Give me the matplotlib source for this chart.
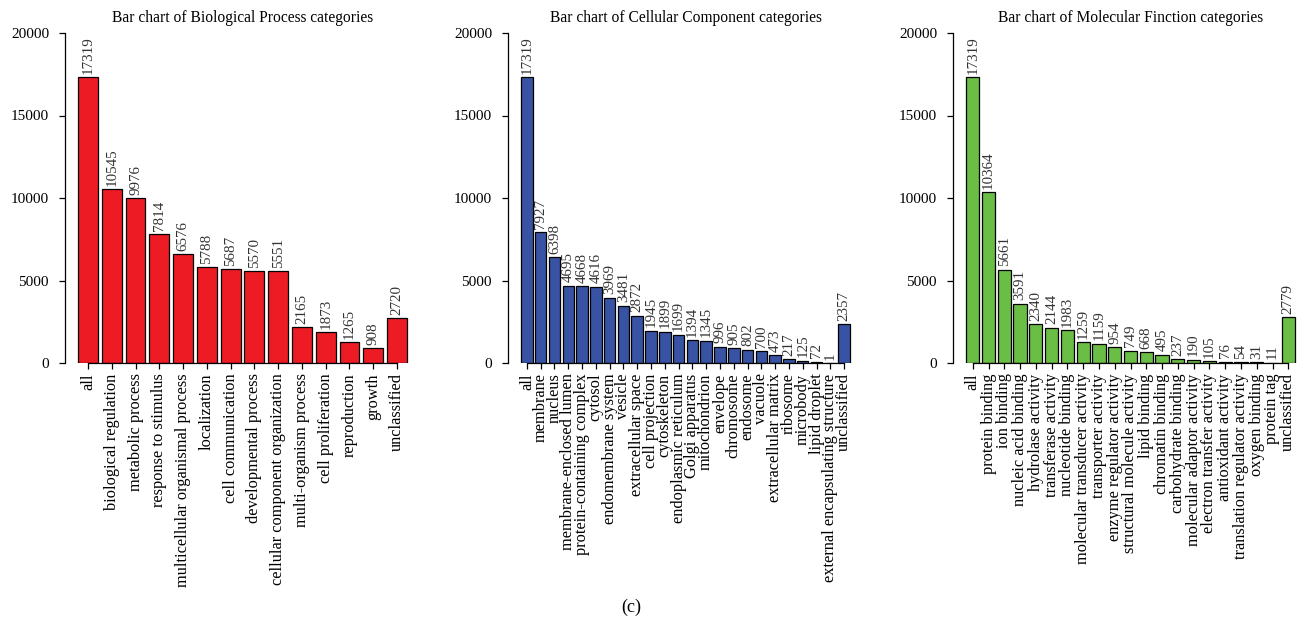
import matplotlib
matplotlib.use("Agg")
import matplotlib.pyplot as plt
import numpy as np

plt.rcParams['font.family'] = ['Liberation Serif', 'DejaVu Serif']

bp_categories = ["all", "biological regulation", "metabolic process", "response to stimulus",
                 "multicellular organismal process", "localization", "cell communication",
                 "developmental process", "cellular component organization",
                 "multi-organism process", "cell proliferation", "reproduction", "growth",
                 "unclassified"]
bp_values = [17319, 10545, 9976, 7814, 6576, 5788, 5687, 5570, 5551, 2165, 1873, 1265, 908, 2720]

cc_categories = ["all", "membrane", "nucleus", "membrane-enclosed lumen",
                 "protein-containing complex", "cytosol", "endomembrane system", "vesicle",
                 "extracellular space", "cell projection", "cytoskeleton",
                 "endoplasmic reticulum", "Golgi apparatus", "mitochondrion", "envelope",
                 "chromosome", "endosome", "vacuole", "extracellular matrix", "ribosome",
                 "microbody", "lipid droplet", "external encapsulating structure", "unclassified"]
cc_values = [17319, 7927, 6398, 4695, 4668, 4616, 3969, 3481, 2872, 1945, 1899, 1699, 1394,
             1345, 996, 905, 802, 700, 473, 217, 125, 72, 1, 2357]

mf_categories = ["all", "protein binding", "ion binding", "nucleic acid binding",
                 "hydrolase activity", "transferase activity", "nucleotide binding",
                 "molecular transducer activity", "transporter activity",
                 "enzyme regulator activity", "structural molecule activity", "lipid binding",
                 "chromatin binding", "carbohydrate binding", "molecular adaptor activity",
                 "electron transfer activity", "antioxidant activity",
                 "translation regulator activity", "oxygen binding", "protein tag", "unclassified"]
mf_values = [17319, 10364, 5661, 3591, 2340, 2144, 1983, 1259, 1159, 954, 749, 668, 495, 237,
             190, 105, 76, 54, 31, 11, 2779]

titles = ["Bar chart of Biological Process categories",
          "Bar chart of Cellular Component categories",
          "Bar chart of Molecular Finction categories"]
colors = ["#ED1C24", "#3953A4", "#6ABD45"]
y_ticks = [0, 5000, 10000, 15000, 20000]

W, H = 1304, 624
fig = plt.figure(figsize=(W / 100, H / 100), dpi=100)

panels = [(bp_categories, bp_values), (cc_categories, cc_values), (mf_categories, mf_values)]
lefts = [65, 508, 953]
ax_w = 355
top_px, bot_px = 33, 363

for i, ((cats, vals), left) in enumerate(zip(panels, lefts)):
    ax = fig.add_axes([left / W, 1 - bot_px / H, ax_w / W, (bot_px - top_px) / H])
    n = len(vals)
    x = 0.7 + 1.2 * np.arange(n)
    ax.bar(x, vals, width=1.0, color=colors[i], edgecolor="black", linewidth=0.9)
    lo, hi = 0.2, 1.2 * n
    pad = 0.04 * (hi - lo)
    ax.set_xlim(lo - pad, hi + pad)
    ax.set_ylim(0, 20000)
    for s in ["top", "right"]:
        ax.spines[s].set_visible(False)
    ax.spines["bottom"].set_bounds(x[0], x[-1])
    for s in ["left", "bottom"]:
        ax.spines[s].set_linewidth(0.9)
    ax.set_yticks(y_ticks)
    ax.set_yticklabels([str(t) for t in y_ticks], fontsize=11)
    ax.set_xticks(x)
    ax.set_xticklabels(cats, rotation=90, fontsize=11.8, va="top", ha="center")
    ax.tick_params(axis="both", direction="out", length=4.5, width=0.9, color="black")
    ax.tick_params(axis="y", pad=7)
    ax.tick_params(axis="x", pad=3)
    for xi, v in zip(x, vals):
        ax.annotate(str(v), (xi, v), xytext=(0, 2.5), textcoords="offset points",
                    rotation=90, ha="center", va="bottom", fontsize=10.8, color="#333333",
                    annotation_clip=False)
    ax.set_title(titles[i], fontsize=11.2, pad=8)

fig.text(631 / W, 1 - 607 / H, "(c)", ha="center", va="center", fontsize=13)

fig.savefig("out.png", dpi=100)
